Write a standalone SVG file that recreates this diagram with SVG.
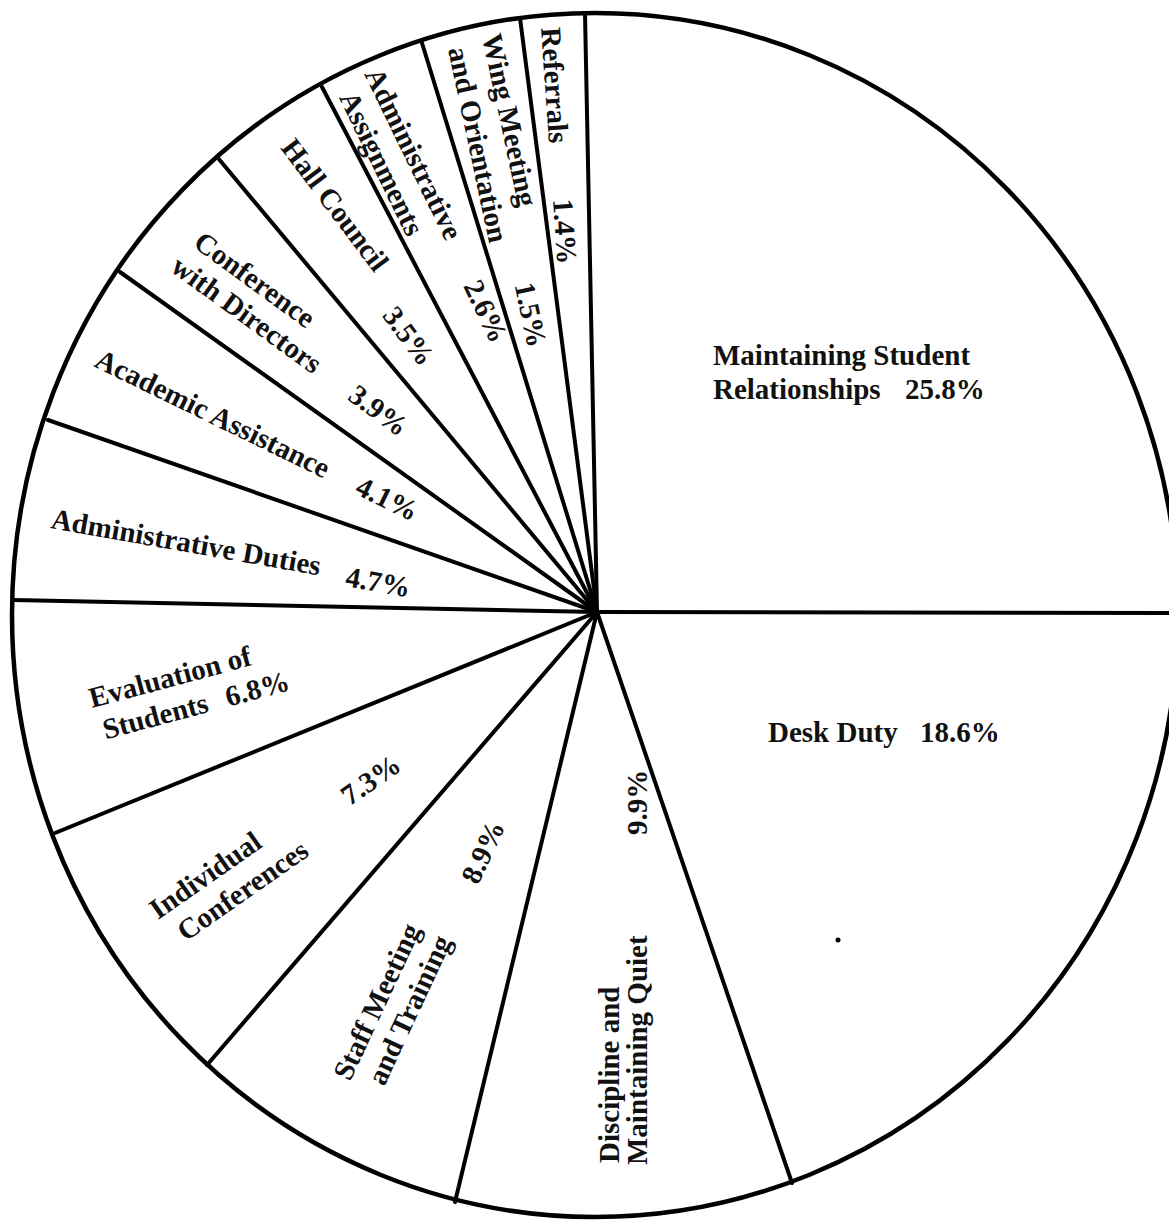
<svg xmlns="http://www.w3.org/2000/svg" width="1169" height="1221" viewBox="0 0 1169 1221">
<style>
.lbl{font-family:"Liberation Serif","Times New Roman",serif;font-size:29px;font-weight:bold;fill:#111}
.edge{stroke:#000;stroke-width:4;stroke-linecap:round;fill:none}
.rim{stroke:#000;stroke-width:4.5;fill:none}
</style>
<rect width="1169" height="1221" fill="#fff"/>
<g id="pie-outline">
<ellipse class="rim" cx="595" cy="615" rx="583" ry="602"/>
</g>
<g id="connectors">
<line class="edge" x1="597" y1="612" x2="1169" y2="613"/>
<line class="edge" x1="597" y1="612" x2="585" y2="13"/>
<line class="edge" x1="597" y1="612" x2="520" y2="18"/>
<line class="edge" x1="597" y1="612" x2="422" y2="43"/>
<line class="edge" x1="597" y1="612" x2="322" y2="87"/>
<line class="edge" x1="597" y1="612" x2="218" y2="158"/>
<line class="edge" x1="597" y1="612" x2="120" y2="272"/>
<line class="edge" x1="597" y1="612" x2="48" y2="420"/>
<line class="edge" x1="597" y1="612" x2="13" y2="600"/>
<line class="edge" x1="597" y1="612" x2="55" y2="833"/>
<line class="edge" x1="597" y1="612" x2="207" y2="1065"/>
<line class="edge" x1="597" y1="612" x2="455" y2="1202"/>
<line class="edge" x1="597" y1="612" x2="792" y2="1183"/>
</g>
<g id="slice-maintaining">
<text class="lbl" x="713" y="365">Maintaining Student</text>
<text class="lbl" y="399"><tspan x="713">Relationships</tspan><tspan x="905">25.8%</tspan></text>
</g>
<g id="slice-desk">
<text class="lbl" y="742"><tspan x="768">Desk Duty</tspan><tspan x="920">18.6%</tspan></text>
</g>
<g id="slice-discipline">
<text class="lbl" transform="translate(619 1163) rotate(-90)">Discipline and</text>
<text class="lbl" transform="translate(647 1165) rotate(-90)"><tspan x="0">Maintaining Quiet</tspan><tspan x="330">9.9%</tspan></text>
</g>
<g id="slice-staff">
<text class="lbl" transform="translate(350 1082) rotate(-65)"><tspan x="0" y="0">Staff Meeting</tspan><tspan x="10" y="33">and Training</tspan><tspan x="232" y="33">8.9%</tspan></text>
</g>
<g id="slice-individual">
<text class="lbl" transform="translate(158 920) rotate(-35)"><tspan x="0" y="0">Individual</tspan><tspan x="10" y="34">Conferences</tspan><tspan x="222" y="17">7.3%</tspan></text>
</g>
<g id="slice-evaluation">
<text class="lbl" transform="translate(92 708) rotate(-15)"><tspan x="0" y="0">Evaluation of</tspan><tspan x="5" y="34">Students</tspan><tspan x="132" y="34">6.8%</tspan></text>
</g>
<g id="slice-admin-duties">
<text class="lbl" transform="translate(50 528) rotate(10)"><tspan x="0" y="0">Administrative Duties</tspan><tspan x="300" y="6">4.7%</tspan></text>
</g>
<g id="slice-academic">
<text class="lbl" transform="translate(93 366) rotate(26)"><tspan x="0">Academic Assistance</tspan><tspan x="290">4.1%</tspan></text>
</g>
<g id="slice-conference">
<text class="lbl" transform="translate(192 246) rotate(36)"><tspan x="0" y="0">Conference</tspan><tspan x="-4" y="33">with Directors</tspan><tspan x="215" y="33">3.9%</tspan></text>
</g>
<g id="slice-hall">
<text class="lbl" transform="translate(280 148) rotate(53)"><tspan x="0" y="0">Hall Council</tspan><tspan x="195" y="20">3.5%</tspan></text>
</g>
<g id="slice-admin-assign">
<text class="lbl" transform="translate(364 74) rotate(64)"><tspan x="0" y="0">Administrative</tspan><tspan x="10" y="33">Assignments</tspan><tspan x="234" y="4">2.6%</tspan></text>
</g>
<g id="slice-wing">
<text class="lbl" transform="translate(482 36) rotate(78)"><tspan x="0" y="0">Wing Meeting</tspan><tspan x="6" y="36">and Orientation</tspan><tspan x="250" y="20">1.5%</tspan></text>
</g>
<g id="slice-referrals">
<text class="lbl" transform="translate(541 28) rotate(86)"><tspan x="0">Referrals</tspan><tspan x="172">1.4%</tspan></text>
</g>
<circle cx="838" cy="940" r="2.5" fill="#000"/>
</svg>
